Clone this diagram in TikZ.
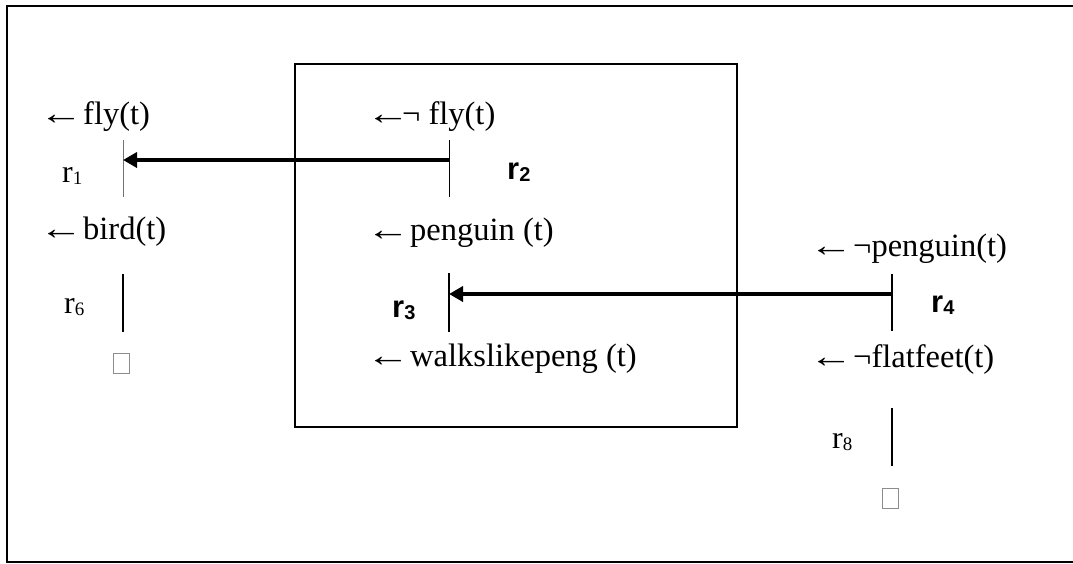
\documentclass[tikz,border=0pt]{standalone}
\usepackage{graphicx}
\usepackage{fontspec}
\setmainfont{Liberation Serif}
\newfontfamily\labelsans{Liberation Sans}
\usetikzlibrary{arrows.meta}

% lowered, smaller index: \rsub{size}{index}
\newcommand\rsub[2]{\raisebox{-2.5pt}{\fontsize{#1}{#1}\selectfont #2}}
% implication arrow of a goal clause, drawn a little wider than the font's own
\newcommand\goalarrow{\scalebox{1.35}[1]{←}\kern-8pt}

\tikzset{
  literal/.style={anchor=base west, inner sep=0pt, font=\fontsize{32.5}{39}\selectfont},
  rulename/.style={anchor=base west, inner sep=0pt, font=\fontsize{32}{38}\selectfont},
  rulebold/.style={anchor=base west, inner sep=0pt, font=\labelsans\bfseries\fontsize{31}{36}\selectfont},
  bar/.style={line width=1.5pt},
  heavybar/.style={line width=2pt},
  thinbar/.style={line width=0.9pt, draw=black!55},
  link/.style={line width=3.6pt, -{Triangle[length=14pt,width=15pt]}},
  framebox/.style={line width=2pt},
  clausebox/.style={line width=1.8pt},
  emptyclause/.style={draw=black!45, line width=0.8pt, minimum width=16pt,
                      minimum height=20pt, inner sep=0pt},
}

\begin{document}
\begin{tikzpicture}[x=1pt, y=-1pt]
\useasboundingbox (0,0) rectangle (1073,563);

% outer frame and the boxed derivation
\draw[framebox] (7,6) rectangle (1090,562);
\draw[clausebox] (295,64) rectangle (737,427);

% left derivation
\node[literal] (flyL) at (39,124) {\goalarrow{} fly(t)};
\node[rulename] (r1) at (62,182) {r\rsub{19}{1}};
\node[literal] (birdL) at (39,239) {\goalarrow{} bird(t)};
\node[rulename] (r6) at (64,313) {r\rsub{19}{6}};
\node[emptyclause] (emptyL) at (121,363.5) {};

\coordinate (r1top) at (123,140);
\coordinate (r1bot) at (123,197);
\coordinate (r1mid) at (123,160);
\draw[thinbar] (r1top) -- (r1bot);
\coordinate (r6top) at (122.5,274);
\coordinate (r6bot) at (122.5,332);
\draw[heavybar] (r6top) -- (r6bot);

% middle derivation
\node[literal] (notfly) at (366,124) {\goalarrow¬ fly(t)};
\node[rulebold] (r2) at (507,179) {r\rsub{20}{2}};
\node[literal] (penguin) at (366,240) {\goalarrow{} penguin (t)};
\node[rulebold] (r3) at (392,317) {r\rsub{20}{3}};
\node[literal] (walks) at (366,366) {\goalarrow{} walkslikepeng (t)};

\coordinate (r2top) at (449.5,140);
\coordinate (r2bot) at (449.5,197);
\coordinate (r2mid) at (449.5,160);
\draw[bar] (r2top) -- (r2bot);
\coordinate (r3top) at (449,273);
\coordinate (r3bot) at (449,332);
\coordinate (r3mid) at (449,294);
\draw[bar] (r3top) -- (r3bot);

% right derivation
\node[literal] (notpeng) at (809,256) {\goalarrow{} ¬penguin(t)};
\node[rulebold] (r4) at (931,312) {r\rsub{20}{4}};
\node[literal] (notflat) at (809,367) {\goalarrow{} ¬flatfeet(t)};
\node[rulename] (r8) at (832,448) {r\rsub{19}{8}};
\node[emptyclause] (emptyR) at (890,498) {};

\coordinate (r4top) at (892,274);
\coordinate (r4bot) at (892,331);
\coordinate (r4mid) at (892,294);
\draw[bar] (r4top) -- (r4bot);
\coordinate (r8top) at (892,408);
\coordinate (r8bot) at (892,466);
\draw[heavybar] (r8top) -- (r8bot);

% attacks between rules
\draw[link] (r2mid) -- (r1mid);
\draw[link] (r4mid) -- (r3mid);
\end{tikzpicture}
\end{document}
